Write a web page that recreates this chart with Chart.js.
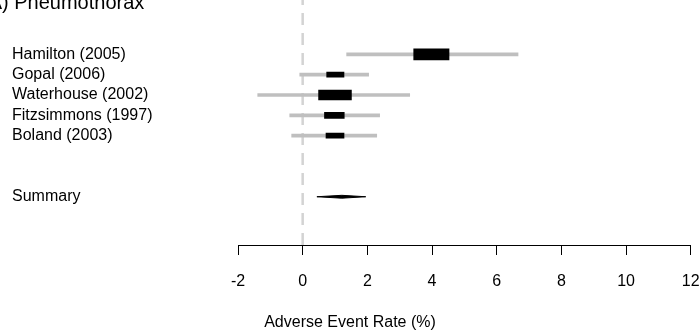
<!DOCTYPE html>
<html>
<head>
<meta charset="utf-8">
<script src="https://cdn.jsdelivr.net/npm/chart.js@4.4.1/dist/chart.umd.min.js"></script>
<style>
  html, body { margin: 0; padding: 0; background: #fff; }
  #wrap { width: 700px; height: 334px; }
</style>
</head>
<body>
<div id="wrap"><canvas id="forest"></canvas></div>
<script>
// --- DATA ---
const studies = ["Hamilton (2005)", "Gopal (2006)", "Waterhouse (2002)", "Fitzsimmons (1997)", "Boland (2003)"];
const estimates = [3.98, 1.01, 1.0, 0.98, 1.0];
const lower = [1.36, -0.09, -1.39, -0.4, -0.34];
const upper = [6.66, 2.04, 3.31, 2.38, 2.29];
const weights = [1.0, 0.49, 0.93, 0.56, 0.51];
const summaryLabel = "Summary";
const summary = [0.44, 1.21, 1.95]; // low, estimate, high
const xTicks = [-2, 0, 2, 4, 6, 8, 10, 12];
const rows = [1, 2, 3, 4, 5];
const summaryRow = 8;
const panelTitle = "(A) Pneumothorax";
const xTitle = "Adverse Event Rate (%)";

const FONT = "'Liberation Sans', Arial, sans-serif";
const yMin = -1.668, yMax = 10.371;
const BOX_W = 0.546;   // half-width of a weight-1 box, in axis units
const BOX_H = 10.5;    // height of a weight-1 box, px

// --- DATASETS ---
const ciSet = {
  label: "CI",
  data: studies.map((s, i) => ({ y: rows[i], x: [lower[i], upper[i]] })),
  backgroundColor: "#bfbfbf",
  barThickness: 3,
  grouped: false,
  order: 5
};

const boxSets = studies.map((s, i) => ({
  label: s,
  data: [{ y: rows[i], x: [estimates[i] - weights[i] * BOX_W, estimates[i] + weights[i] * BOX_W] }],
  backgroundColor: "#000",
  barThickness: Math.round(weights[i] * BOX_H),
  grouped: false,
  order: 1
}));

const dh = 0.07;
const diamondSet = {
  type: "line",
  label: summaryLabel,
  data: [
    { x: summary[0], y: summaryRow },
    { x: summary[1], y: summaryRow - dh },
    { x: summary[2], y: summaryRow },
    { x: summary[1], y: summaryRow + dh },
    { x: summary[0], y: summaryRow }
  ],
  borderColor: "#000",
  backgroundColor: "#000",
  borderWidth: 1,
  pointRadius: 0,
  fill: "shape",
  order: 0
};

const zeroSet = {
  type: "line",
  label: "zero",
  data: [{ x: 0, y: yMax }, { x: 0, y: yMin }],
  borderColor: "#d3d3d3",
  borderWidth: 2.5,
  borderDash: [12, 8],
  pointRadius: 0,
  fill: false,
  order: 10
};

const rowLabels = {};
rows.forEach((r, i) => (rowLabels[r] = studies[i]));
rowLabels[summaryRow] = summaryLabel;

// --- TITLES (panel title is cut at the left edge, x title centred on the page) ---
const titles = {
  id: "titles",
  afterDraw(chart) {
    const ctx = chart.ctx;
    ctx.save();
    ctx.fillStyle = "#000";
    ctx.font = "20px " + FONT;
    ctx.textAlign = "left";
    ctx.textBaseline = "alphabetic";
    ctx.fillText(panelTitle, -18, 9);
    ctx.font = "16px " + FONT;
    ctx.textAlign = "center";
    ctx.textBaseline = "middle";
    ctx.fillText(xTitle, chart.width / 2, 323);
    ctx.restore();
  }
};

// --- CHART ---
new Chart(document.getElementById("forest"), {
  type: "bar",
  data: { datasets: [zeroSet, ciSet, ...boxSets, diamondSet] },
  options: {
    indexAxis: "y",
    responsive: true,
    maintainAspectRatio: false,
    animation: false,
    devicePixelRatio: 1,
    layout: { padding: { left: 12, right: 9.3, top: 0, bottom: 0 } },
    plugins: {
      legend: { display: false },
      tooltip: { enabled: false }
    },
    scales: {
      x: {
        type: "linear",
        min: -2,
        max: 12,
        afterBuildTicks: s => { s.ticks = xTicks.map(v => ({ value: v })); },
        afterFit: s => { s.height = 89; s.paddingLeft = 0; s.paddingRight = 0; },
        grid: { drawOnChartArea: false, drawTicks: true, tickLength: 10, color: "#000", lineWidth: 1 },
        border: { display: true, color: "#000", width: 1 },
        ticks: { color: "#000", font: { family: FONT, size: 16 }, padding: 17, maxRotation: 0, autoSkip: false }
      },
      y: {
        type: "linear",
        reverse: true,
        offset: false,
        min: yMin,
        max: yMax,
        afterBuildTicks: s => { s.ticks = [...rows, summaryRow].map(v => ({ value: v })); },
        afterFit: s => { s.width = 226; s.paddingTop = 0; s.paddingBottom = 0; },
        grid: { display: false },
        border: { display: false },
        ticks: {
          color: "#000",
          font: { family: FONT, size: 16 },
          crossAlign: "far",
          autoSkip: false,
          callback: v => rowLabels[v] || ""
        }
      }
    }
  },
  plugins: [titles]
});
</script>
</body>
</html>
